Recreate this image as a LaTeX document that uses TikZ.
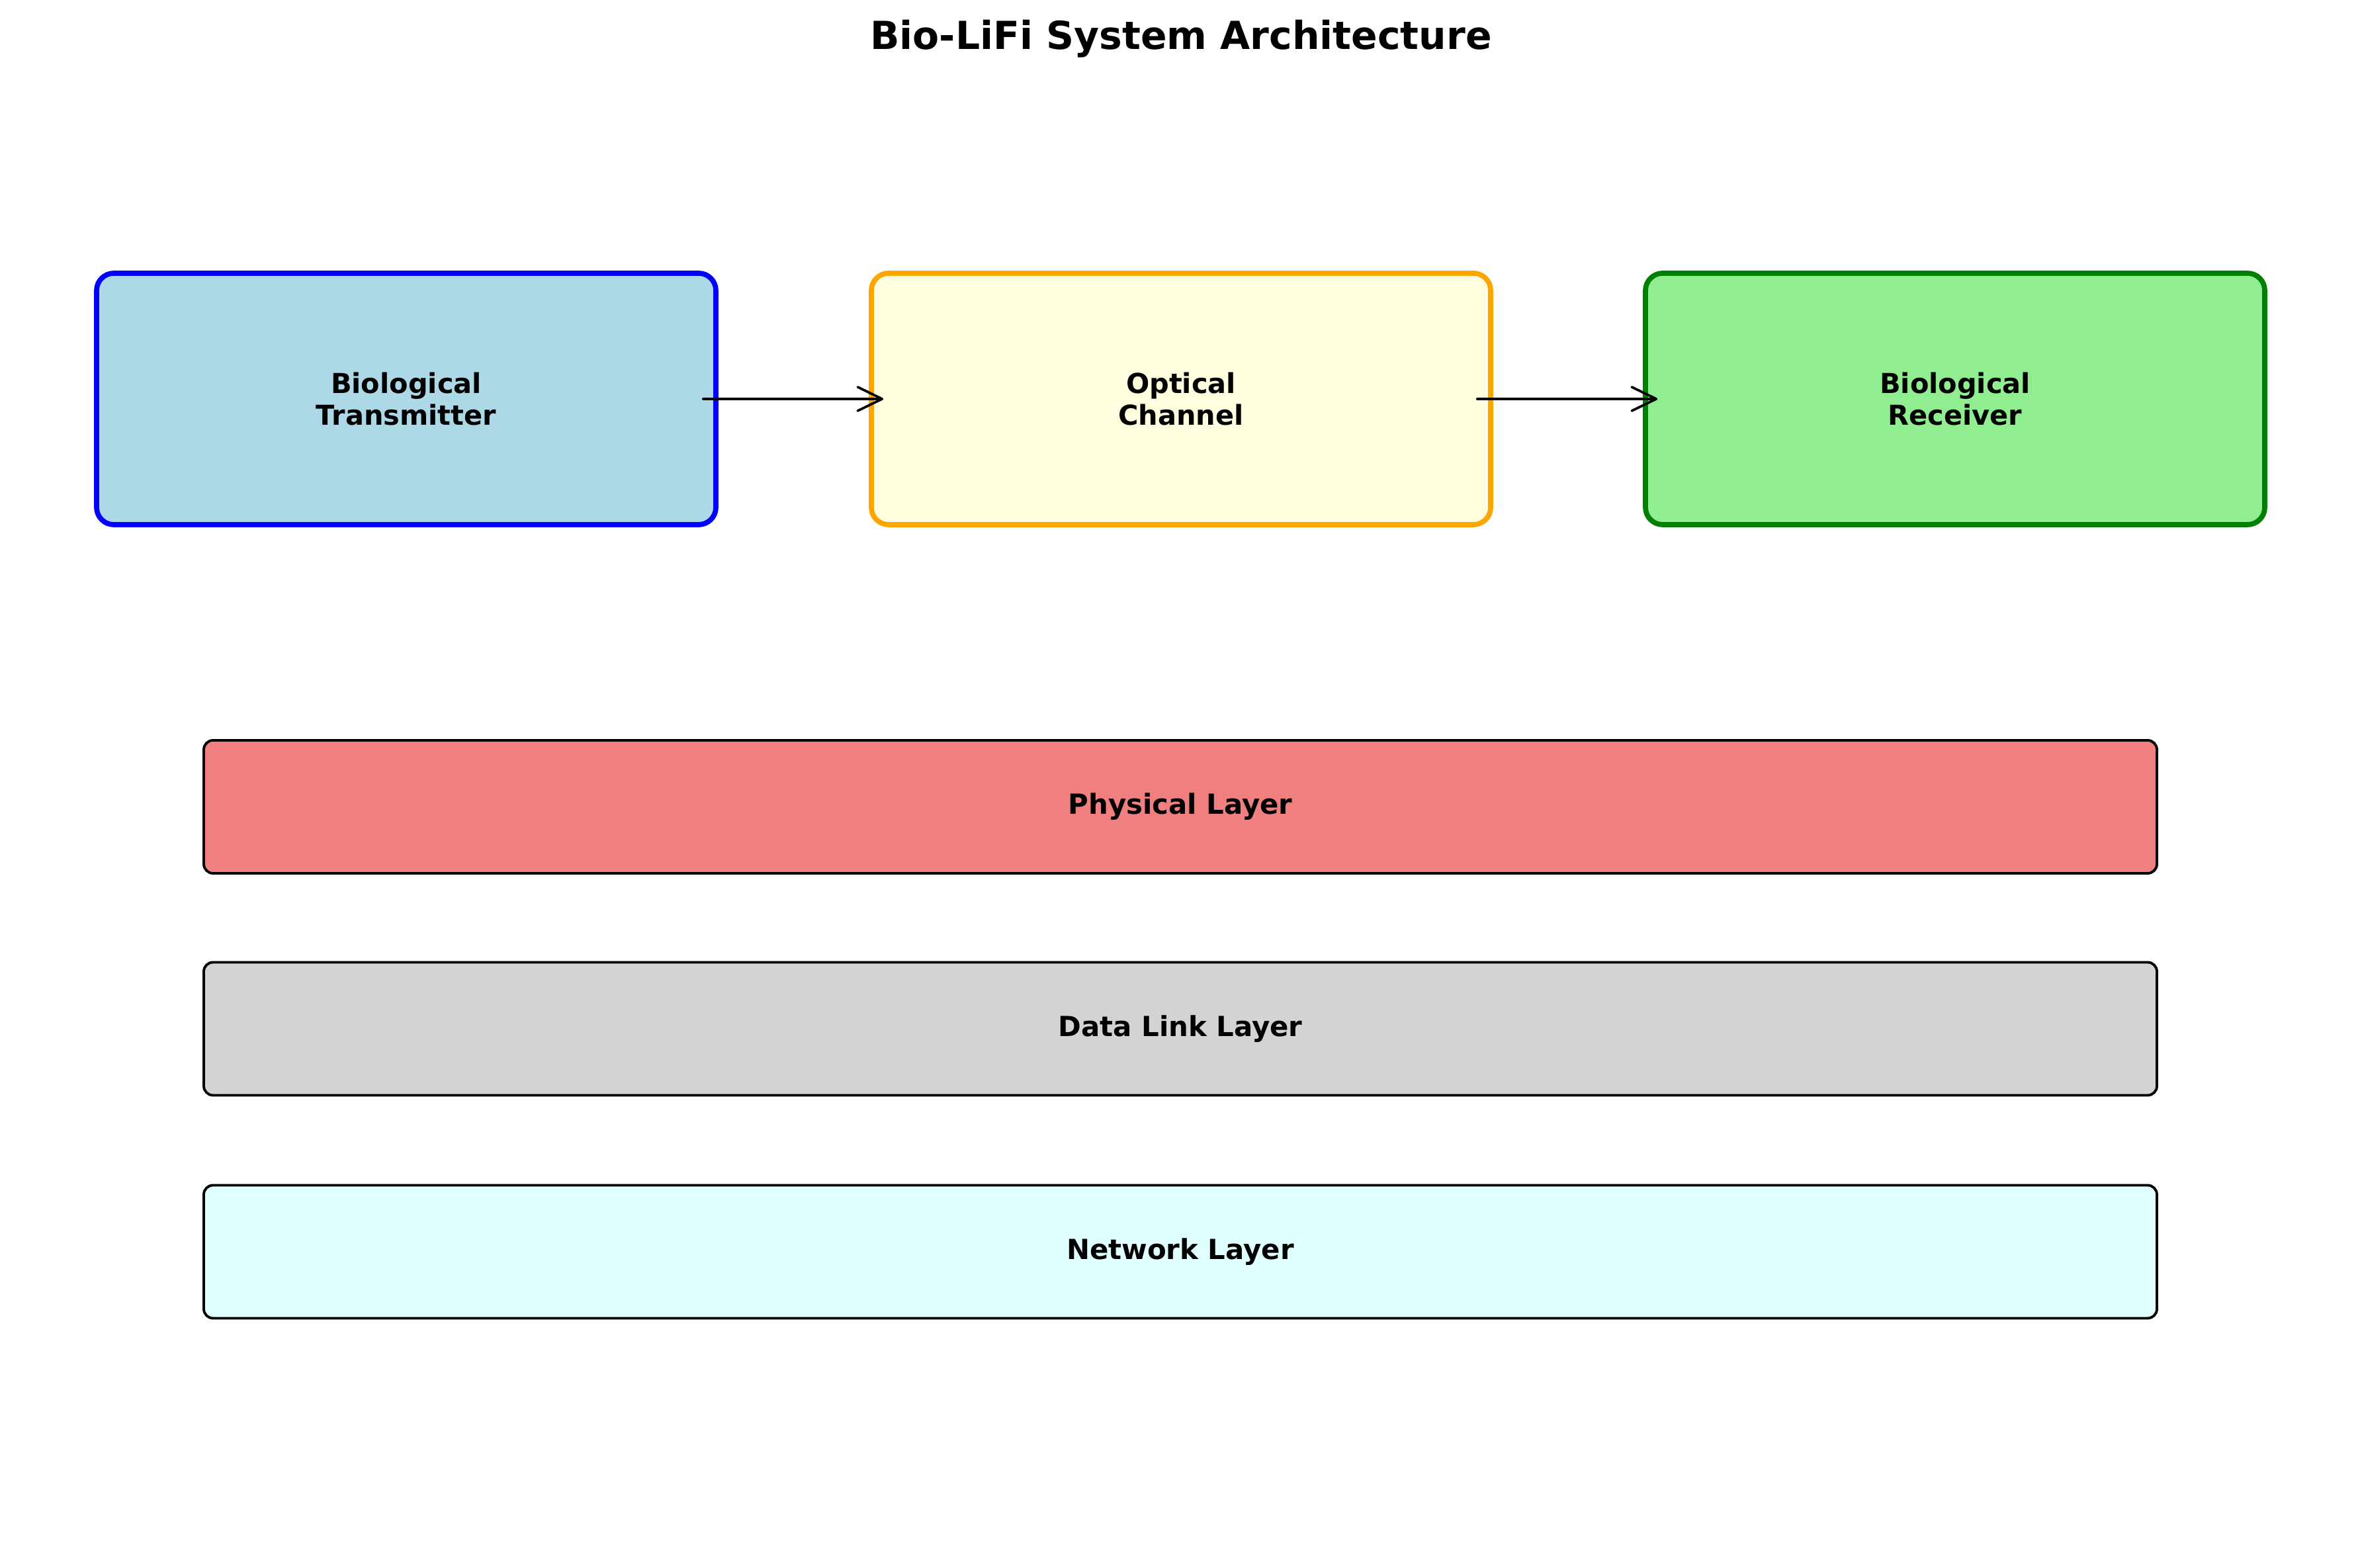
\documentclass[tikz,border=0pt]{standalone}
\usepackage{fontspec}
\setmainfont{DejaVu Sans}
\usetikzlibrary{arrows.meta}
\definecolor{cLightBlue}{HTML}{ADD8E6}
\definecolor{cBlue}{HTML}{0000FF}
\definecolor{cLightYellow}{HTML}{FFFFE0}
\definecolor{cOrange}{HTML}{FFA500}
\definecolor{cLightGreen}{HTML}{90EE90}
\definecolor{cGreen}{HTML}{008000}
\definecolor{cCoral}{HTML}{F08080}
\definecolor{cGray}{HTML}{D3D3D3}
\definecolor{cCyan}{HTML}{E0FFFF}
\tikzset{
  compbox/.style={draw, rectangle, rounded corners=0.26cm, line width=2.2pt,
    minimum width=9.36cm, minimum height=3.80cm, align=center,
    font=\fontsize{11.8}{13.9}\selectfont\bfseries, inner sep=0pt},
  layerbox/.style={draw=black, rectangle, rounded corners=0.14cm, line width=1.1pt,
    minimum width=29.52cm, minimum height=2.01cm, align=center,
    font=\fontsize{11.9}{14}\selectfont\bfseries, inner sep=0pt},
  flow/.style={line width=1.05pt, line cap=round,
    -{Straight Barb[length=3.7mm, width=3.6mm, round]}},
}
\begin{document}
\begin{tikzpicture}
\useasboundingbox (0,0) rectangle (35.7,23.7);
\fill[white] (0,0) rectangle (35.7,23.7);
\node[anchor=base, font=\fontsize{16.6}{20}\selectfont\bfseries] (title) at (17.85,22.95) {Bio-LiFi System Architecture};
\node[compbox, draw=cBlue, fill=cLightBlue] (tx) at (6.14,17.67) {Biological\\Transmitter};
\node[compbox, draw=cOrange, fill=cLightYellow] (ch) at (17.85,17.67) {Optical\\Channel};
\node[compbox, draw=cGreen, fill=cLightGreen] (rx) at (29.55,17.67) {Biological\\Receiver};
\draw[flow] ([xshift=-0.23cm]tx.east) -- ([xshift=0.22cm]ch.west);
\draw[flow] ([xshift=-0.24cm]ch.east) -- ([xshift=0.22cm]rx.west);
\node[layerbox, fill=cCoral] (phy) at (17.84,11.505) {Physical Layer};
\node[layerbox, fill=cGray] (dll) at (17.84,8.15) {Data Link Layer};
\node[layerbox, fill=cCyan] (net) at (17.84,4.78) {Network Layer};
\end{tikzpicture}
\end{document}
